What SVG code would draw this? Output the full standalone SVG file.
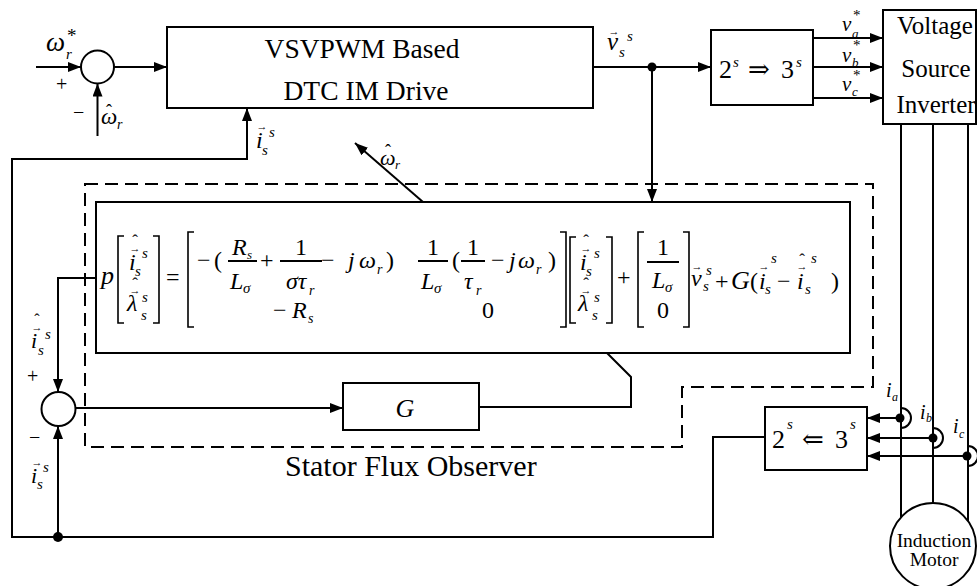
<svg xmlns="http://www.w3.org/2000/svg" width="977" height="586" viewBox="0 0 977 586">
<defs>
<marker id="ah" markerUnits="userSpaceOnUse" markerWidth="13" markerHeight="10" refX="13" refY="5" orient="auto"><path d="M0,0 L13,5 L0,10 z" fill="#000"/></marker>
<style>
text{font-family:'Liberation Serif','DejaVu Serif','Times New Roman',serif;fill:#000}
.i{font-style:italic}
.ln{stroke:#000;stroke-width:2;fill:none}
.bk{stroke:#000;stroke-width:1.6;fill:none}
.box{stroke:#000;stroke-width:2;fill:#fff}
.dash{stroke:#000;stroke-width:2;fill:none;stroke-dasharray:13 7}
.ar{marker-end:url(#ah)}
.m{font-size:24px}
.s{font-size:15px}
.acc{font-size:11px}
.hat{font-size:17px}
</style>
</defs>
<rect width="977" height="586" fill="#fff"/>

<g id="connectors">
<path class="ln ar" d="M36,67 H81"/>
<path class="ln ar" d="M114,67 H167"/>
<path class="ln ar" d="M97.5,136 V83.5"/>
<path class="ln ar" d="M593,67 H711"/>
<path class="ln ar" d="M652,67 V202"/>
<path class="ln ar" d="M813,38 H883"/>
<path class="ln ar" d="M813,67 H883"/>
<path class="ln ar" d="M813,98 H883"/>
<path class="ln" d="M901,124 V517 M933,124 V503 M968,124 V521"/>
<path class="ln" d="M901,408 A10,10 0 0 1 901,428 M933,428 A10,10 0 0 1 933,448 M968,446 A10,10 0 0 1 968,466"/>
<path class="ln ar" d="M900,418 H867"/>
<path class="ln ar" d="M933,438 H867"/>
<path class="ln ar" d="M967,456 H867"/>
<circle cx="900" cy="418" r="4.5" fill="#000"/>
<circle cx="933" cy="438" r="4.5" fill="#000"/>
<circle cx="967" cy="456" r="4.5" fill="#000"/>
<path class="ln ar" d="M765,437 H713 V537 H12 V159 H247 V108"/>
<path class="ln ar" d="M58,537 V426"/>
<circle cx="58" cy="537" r="5" fill="#000"/>
<circle cx="652" cy="67" r="4.5" fill="#000"/>
<path class="ln ar" d="M423,202 L355,143"/>
<path class="ln ar" d="M96,278 H58 V392"/>
<path class="ln ar" d="M75.5,408 H343"/>
<path class="ln" d="M479,407 H631 V377 L607,353"/>
</g>

<g id="sum1">
<circle class="box" cx="97.5" cy="67" r="16.5"/>
<text class="i" x="46" y="51" font-size="27">ω</text>
<text class="i" x="66" y="59" font-size="15">r</text>
<text x="67" y="42" font-size="19">*</text>
<text x="56" y="91" font-size="20">+</text>
<text x="73" y="119" font-size="20">−</text>
<text class="i" x="101" y="124" font-size="23">ω</text>
<text x="109" y="117" font-size="18" text-anchor="middle">ˆ</text>
<text class="i" x="117" y="129" font-size="14">r</text>
</g>

<g id="drive">
<rect class="box" x="167" y="27" width="426" height="81"/>
<text x="362" y="58" font-size="27.5" text-anchor="middle">VSVPWM Based</text>
<text x="366" y="100" font-size="27.5" text-anchor="middle">DTC IM Drive</text>
</g>

<g id="labels">
<text class="i" x="607" y="50" font-size="25">v</text>
<text class="acc" x="614" y="35" text-anchor="middle">→</text>
<text class="i s" x="619" y="57">s</text>
<text class="i s" x="627" y="41">s</text>
<text class="i" x="256" y="148" font-size="24">i</text>
<text class="acc" x="262" y="130" text-anchor="middle">→</text>
<text class="i s" x="262" y="155">s</text>
<text class="i s" x="269" y="137">s</text>
<text class="i" x="380" y="165" font-size="22">ω</text>
<text x="388" y="157" font-size="18" text-anchor="middle">ˆ</text>
<text class="i" x="395" y="169" font-size="13">r</text>
<text class="i" x="842" y="31" font-size="21">v</text>
<text class="i" x="852" y="38" font-size="13">a</text>
<text x="853" y="20" font-size="15">*</text>
<text class="i" x="842" y="62" font-size="21">v</text>
<text class="i" x="852" y="67" font-size="13">b</text>
<text x="853" y="50" font-size="15">*</text>
<text class="i" x="842" y="91" font-size="21">v</text>
<text class="i" x="852" y="96" font-size="13">c</text>
<text x="853" y="80" font-size="15">*</text>
<text class="i" x="886" y="397" font-size="20">i</text>
<text class="i" x="892" y="401" font-size="12">a</text>
<text class="i" x="920" y="419" font-size="20">i</text>
<text class="i" x="926" y="422" font-size="12">b</text>
<text class="i" x="953" y="433" font-size="20">i</text>
<text class="i" x="959" y="438" font-size="12">c</text>
<text class="i" x="31" y="348" font-size="22">i</text>
<text class="acc" x="37" y="331" text-anchor="middle">→</text>
<text x="37" y="325" font-size="16" text-anchor="middle">ˆ</text>
<text class="i s" x="38" y="355">s</text>
<text class="i s" x="45" y="339">s</text>
<text x="27" y="383" font-size="20">+</text>
<text x="29" y="444" font-size="20">−</text>
<text class="i" x="31" y="483" font-size="22">i</text>
<text class="acc" x="37" y="466" text-anchor="middle">→</text>
<text class="i s" x="37" y="489">s</text>
<text class="i s" x="43" y="472">s</text>
</g>

<g id="conv23">
<rect class="box" x="711" y="30" width="102" height="75"/>
<text x="719" y="78" font-size="26">2</text>
<text class="i s" x="733" y="67">s</text>
<text x="748" y="78" font-size="26">⇒</text>
<text x="781" y="78" font-size="26">3</text>
<text class="i s" x="796" y="67">s</text>
</g>

<g id="vsi">
<rect class="box" x="883" y="10" width="93" height="114"/>
<text x="935" y="34" font-size="25" text-anchor="middle">Voltage</text>
<text x="936" y="77" font-size="25" text-anchor="middle">Source</text>
<text x="936" y="113" font-size="25" text-anchor="middle">Inverter</text>
</g>

<g id="conv32">
<rect class="box" x="765" y="407" width="102" height="63"/>
<text x="772" y="448" font-size="26">2</text>
<text class="i s" x="787" y="429">s</text>
<text x="802" y="448" font-size="26">⇐</text>
<text x="835" y="448" font-size="26">3</text>
<text class="i s" x="850" y="429">s</text>
</g>

<g id="motor">
<circle class="box" cx="933" cy="546" r="43"/>
<text x="934" y="547" font-size="19.5" text-anchor="middle">Induction</text>
<text x="934" y="566" font-size="19.5" text-anchor="middle">Motor</text>
</g>

<g id="observer">
<path class="dash" d="M85,184 H873 V387 H682 V447 H85 Z"/>
<text x="285" y="476" font-size="30">Stator Flux Observer</text>
<circle class="box" cx="58.5" cy="409" r="17"/>
<g id="G">
<rect class="box" x="343" y="383" width="136" height="47"/>
<text class="i" x="405" y="417" font-size="26" text-anchor="middle">G</text>
</g>
<g id="equation">
<rect class="box" x="96" y="202" width="754" height="151"/>
<text class="i" x="101" y="284" font-size="26">p</text>
<path class="bk" d="M124,236 H118 V323 H124 M153,236 H159 V323 H153"/>
<text class="i m" x="129" y="270">i</text>
<text class="acc" x="135" y="252" text-anchor="middle">→</text>
<text class="hat" x="135" y="246" text-anchor="middle">ˆ</text>
<text class="i s" x="135" y="276">s</text>
<text class="i s" x="142" y="258">s</text>
<text class="i m" x="127" y="311">λ</text>
<text class="acc" x="135" y="294" text-anchor="middle">→</text>
<text class="hat" x="135" y="289" text-anchor="middle">ˆ</text>
<text class="i s" x="141" y="320">s</text>
<text class="i s" x="142" y="302">s</text>
<text class="m" x="166" y="285">=</text>
<path class="bk" d="M194,232 H188 V327 H194 M560,232 H566 V327 H560"/>
<text class="m" x="197" y="268">−</text>
<text class="m" x="214" y="268">(</text>
<text class="i m" x="232" y="255">R</text>
<text class="i" x="247" y="259" font-size="13">s</text>
<path class="ln" d="M228,261 H257" stroke-width="1.5"/>
<text class="i m" x="230" y="289">L</text>
<text class="i s" x="243" y="293">σ</text>
<text class="m" x="260" y="268">+</text>
<text class="m" x="301" y="255" text-anchor="middle">1</text>
<path class="ln" d="M280,261 H322" stroke-width="1.5"/>
<text class="i m" x="286" y="289">στ</text>
<text class="i" x="309" y="295" font-size="14">r</text>
<text class="m" x="321" y="268">−</text>
<text class="i m" x="348" y="268">j</text>
<text class="i m" x="359" y="268">ω</text>
<text class="i" x="377" y="274" font-size="14">r</text>
<text class="m" x="386" y="268">)</text>
<text class="m" x="273" y="318">−</text>
<text class="i m" x="292" y="318">R</text>
<text class="i" x="308" y="323" font-size="14">s</text>
<text class="m" x="433" y="255" text-anchor="middle">1</text>
<path class="ln" d="M418,261 H448" stroke-width="1.5"/>
<text class="i m" x="421" y="289">L</text>
<text class="i s" x="434" y="293">σ</text>
<text class="m" x="452" y="268">(</text>
<text class="m" x="473" y="255" text-anchor="middle">1</text>
<path class="ln" d="M461,261 H485" stroke-width="1.5"/>
<text class="i m" x="464" y="289">τ</text>
<text class="i" x="476" y="295" font-size="14">r</text>
<text class="m" x="491" y="268">−</text>
<text class="i m" x="509" y="268">j</text>
<text class="i m" x="518" y="268">ω</text>
<text class="i" x="536" y="274" font-size="14">r</text>
<text class="m" x="548" y="268">)</text>
<text class="m" x="482" y="318">0</text>
<path class="bk" d="M576,237 H570 V323 H576 M606,237 H612 V323 H606"/>
<text class="i m" x="580" y="270">i</text>
<text class="acc" x="586" y="252" text-anchor="middle">→</text>
<text class="hat" x="586" y="246" text-anchor="middle">ˆ</text>
<text class="i s" x="586" y="276">s</text>
<text class="i s" x="594" y="258">s</text>
<text class="i m" x="578" y="311">λ</text>
<text class="acc" x="586" y="294" text-anchor="middle">→</text>
<text class="hat" x="586" y="289" text-anchor="middle">ˆ</text>
<text class="i s" x="592" y="320">s</text>
<text class="i s" x="594" y="302">s</text>
<text class="m" x="617" y="285">+</text>
<path class="bk" d="M644,232 H638 V327 H644 M683,232 H689 V327 H683"/>
<text class="m" x="663" y="255" text-anchor="middle">1</text>
<path class="ln" d="M647,262 H679" stroke-width="1.5"/>
<text class="i m" x="652" y="288">L</text>
<text class="i s" x="665" y="292">σ</text>
<text class="m" x="663" y="318" text-anchor="middle">0</text>
<text class="i m" x="691" y="286">v</text>
<text class="acc" x="697" y="270" text-anchor="middle">→</text>
<text class="i s" x="703" y="291">s</text>
<text class="i s" x="706" y="275">s</text>
<text class="m" x="715" y="289">+</text>
<text class="i" x="731" y="289" font-size="26">G</text>
<text class="m" x="750" y="289">(</text>
<text class="i m" x="759" y="289">i</text>
<text class="acc" x="764" y="270" text-anchor="middle">→</text>
<text class="i s" x="765" y="294">s</text>
<text class="i s" x="771" y="263">s</text>
<text class="m" x="777" y="289">−</text>
<text class="i m" x="797" y="289">i</text>
<text class="acc" x="802" y="270" text-anchor="middle">→</text>
<text class="hat" x="802" y="265" text-anchor="middle">ˆ</text>
<text class="i s" x="805" y="294">s</text>
<text class="i s" x="811" y="263">s</text>
<text class="m" x="831" y="289">)</text>
</g>
</g>
</svg>
